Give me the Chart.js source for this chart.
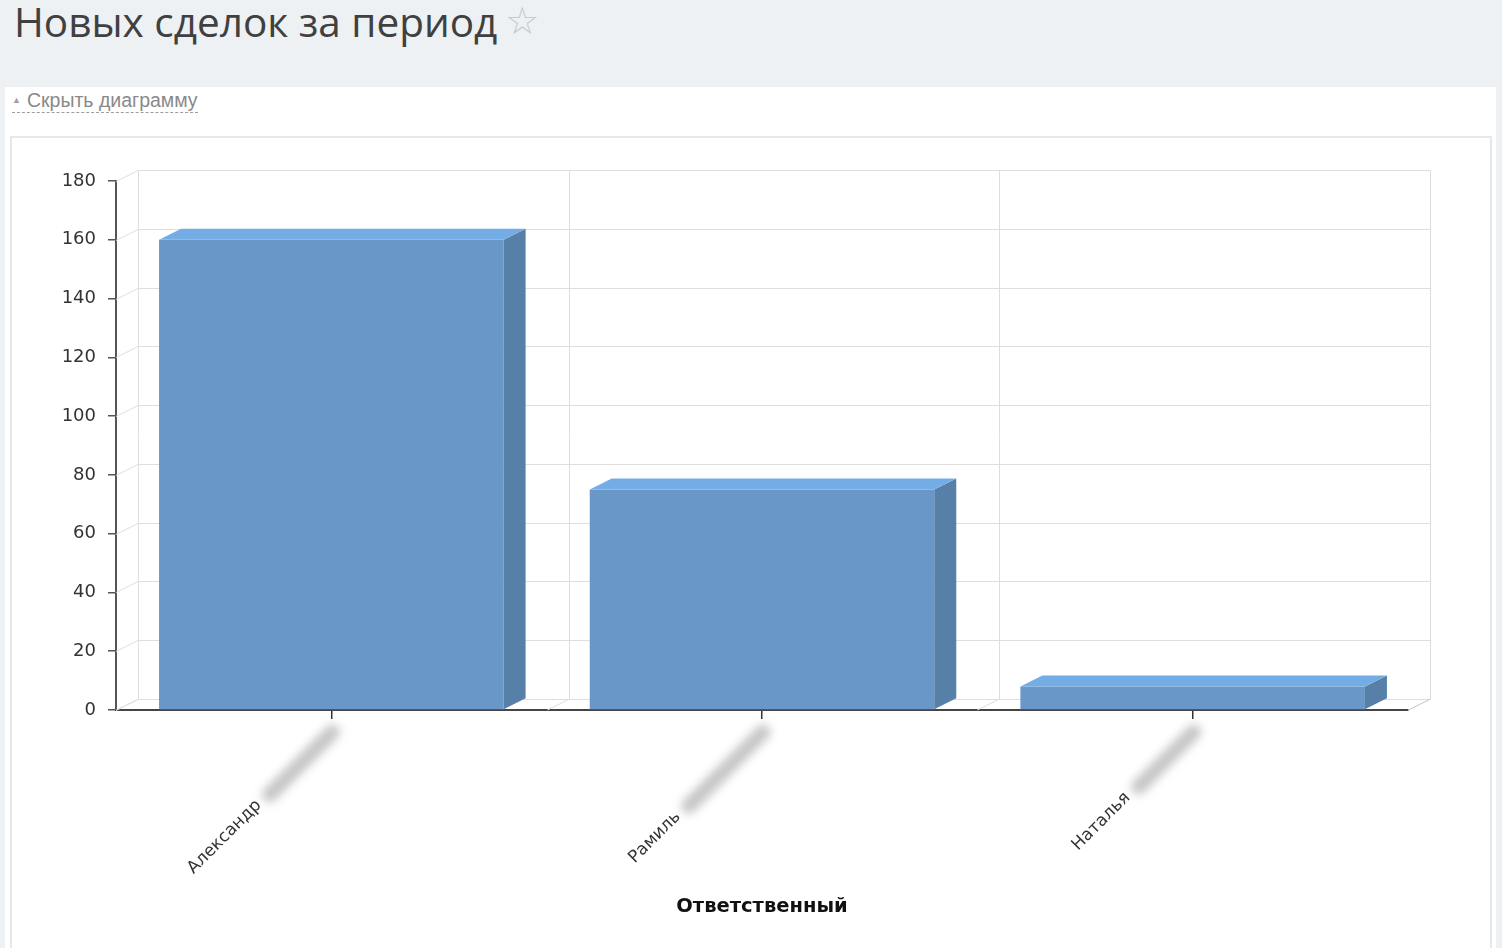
<!DOCTYPE html>
<html lang="ru">
<head>
<meta charset="utf-8">
<title>Новых сделок за период</title>
<script src="https://cdn.jsdelivr.net/npm/chart.js@4.4.1/dist/chart.umd.min.js"></script>
<style>
  html, body { margin: 0; padding: 0; }
  body {
    width: 1502px; height: 948px; position: relative; overflow: hidden;
    background: #edf1f4; font-family: "Open Sans", sans-serif;
  }
  .page-title {
    position: absolute; left: 14px; top: -6px; margin: 0;
    font-size: 40.5px; font-weight: 400; color: #404040; white-space: nowrap;
  }
  .page-title .star {
    font-family: "DejaVu Sans", sans-serif; font-size: 38px; color: #c6cacd;
    margin-left: 8px; position: relative; top: -3px;
  }
  .panel { position: absolute; left: 5px; top: 87px; width: 1491px; height: 861px; background: #fff; }
  .toggle {
    position: absolute; left: 12px; top: 89px;
    font-family: "Liberation Sans", Arial, sans-serif; font-size: 19.5px; color: #8a8a8a;
    border-bottom: 1px dashed #9c9c9c; line-height: 23px;
  }
  .toggle .arrow { font-size: 9px; color: #a0a0a0; vertical-align: 4px; margin-right: 6px; }
  .chart-box {
    position: absolute; left: 10px; top: 136px; width: 1478px; height: 820px;
    border: 2px solid #e6e9eb; background: #fff;
  }
  .chart-wrap { position: absolute; left: 0; top: 0; width: 1502px; height: 948px; }
</style>
</head>
<body>
<h1 class="page-title">Новых сделок за период<span class="star">☆</span></h1>
<div class="panel"></div>
<div class="toggle"><span class="arrow">▲</span>Скрыть диаграмму</div>
<div class="chart-box"></div>
<div class="chart-wrap"><canvas id="deals-chart"></canvas></div>

<script>
// data
const categories = ['Александр', 'Рамиль', 'Наталья'];
const dealCounts = [160, 75, 8];
const yTickValues = [0, 20, 40, 60, 80, 100, 120, 140, 160, 180];
const xAxisTitle = 'Ответственный';
// surnames are blurred out in the original, keep their length as blank space
const hiddenSurnameLength = [19, 22, 17];

// fake 3d depth
const DEPTH_X = 22;
const DEPTH_Y = 11;

const FRONT = '#6897c8';
const TOP = '#74ade6';
const SIDE = '#5780a8';
const GRID = '#dedede';
const LABEL_FONT = '17px "DejaVu Sans", Verdana, sans-serif';

function line(ctx, x1, y1, x2, y2) {
  ctx.beginPath();
  ctx.moveTo(x1, y1);
  ctx.lineTo(x2, y2);
  ctx.stroke();
}

function poly(ctx, pts, color) {
  ctx.beginPath();
  ctx.moveTo(pts[0][0], pts[0][1]);
  pts.slice(1).forEach((p) => ctx.lineTo(p[0], p[1]));
  ctx.closePath();
  ctx.fillStyle = color;
  ctx.fill();
}

const box3d = {
  id: 'box3d',
  beforeDatasetsDraw(chart) {
    const { ctx, chartArea: a, scales: { x, y } } = chart;
    ctx.save();
    ctx.strokeStyle = GRID;
    ctx.lineWidth = 1;

    // back wall horizontal lines + left wall slants
    y.ticks.forEach((t) => {
      const py = Math.round(y.getPixelForValue(t.value)) + 0.5;
      line(ctx, a.left, py, a.left + DEPTH_X, py - DEPTH_Y);
      line(ctx, a.left + DEPTH_X, py - DEPTH_Y, a.right + DEPTH_X, py - DEPTH_Y);
    });

    // back wall verticals + floor slants at category borders
    for (let i = 0; i <= categories.length; i++) {
      const bx = Math.round(x.getPixelForValue(i - 0.5)) + 0.5;
      line(ctx, bx + DEPTH_X, a.top - DEPTH_Y, bx + DEPTH_X, a.bottom - DEPTH_Y);
      ctx.strokeStyle = i === categories.length ? '#c4c4c4' : GRID;
      line(ctx, bx, a.bottom, bx + DEPTH_X, a.bottom - DEPTH_Y);
      ctx.strokeStyle = GRID;
    }
    ctx.restore();
  },
  afterDatasetsDraw(chart) {
    const { ctx } = chart;
    const meta = chart.getDatasetMeta(0);
    ctx.save();
    meta.data.forEach((bar) => {
      const { x, y, base, width } = bar.getProps(['x', 'y', 'base', 'width'], true);
      const l = x - width / 2;
      const r = x + width / 2;
      poly(ctx, [[r, y], [r + DEPTH_X, y - DEPTH_Y], [r + DEPTH_X, base - DEPTH_Y], [r, base]], SIDE);
      poly(ctx, [[l, y], [l + DEPTH_X, y - DEPTH_Y], [r + DEPTH_X, y - DEPTH_Y], [r, y]], TOP);
    });
    ctx.restore();
  },
  afterDraw(chart) {
    // grey smudge where the surname was blurred
    const { ctx, chartArea: a, scales: { x } } = chart;
    ctx.save();
    ctx.font = LABEL_FONT;
    ctx.filter = 'blur(5px)';
    ctx.strokeStyle = 'rgba(150,150,150,0.55)';
    ctx.lineWidth = 15;
    ctx.lineCap = 'round';
    categories.forEach((c, i) => {
      const len = ctx.measureText(' '.repeat(hiddenSurnameLength[i])).width;
      const d = (len - 14) * Math.SQRT1_2;
      const sx = x.getPixelForValue(i) + 1;
      const sy = a.bottom + 22;
      line(ctx, sx, sy, sx - d, sy + d);
    });
    ctx.restore();
  },
};

Chart.defaults.font.family = '"DejaVu Sans", Verdana, sans-serif';
Chart.defaults.color = '#333';

const chart = new Chart(document.getElementById('deals-chart'), {
  type: 'bar',
  data: {
    labels: categories,
    datasets: [{
      data: dealCounts,
      backgroundColor: FRONT,
      borderWidth: 0,
      barPercentage: 0.8,
      categoryPercentage: 1,
    }],
  },
  options: {
    responsive: true,
    maintainAspectRatio: false,
    animation: false,
    layout: { padding: { left: 40, top: 181, right: 94, bottom: 27 } },
    plugins: {
      legend: { display: false },
      tooltip: { enabled: false },
    },
    scales: {
      x: {
        z: 1,
        afterFit: (scale) => { scale.height = 211; },
        border: { display: true, color: '#454545', width: 2 },
        grid: { display: true, offset: false, drawOnChartArea: false, drawTicks: true, tickLength: 9, color: '#333', lineWidth: 1.5 },
        ticks: {
          minRotation: 45,
          maxRotation: 45,
          autoSkip: false,
          padding: 4,
          color: '#333',
          font: { size: 17 },
          callback: (value, i) => categories[i] + ' '.repeat(hiddenSurnameLength[i]),
        },
        title: {
          display: true,
          text: xAxisTitle,
          color: '#111',
          font: { size: 19.5, weight: 'bold' },
          padding: { top: 0, bottom: 2 },
        },
      },
      y: {
        min: 0,
        max: 180,
        afterFit: (scale) => { scale.width = 76; },
        afterBuildTicks: (scale) => { scale.ticks = yTickValues.map((v) => ({ value: v })); },
        border: { display: true, color: '#555', width: 2 },
        grid: { display: true, drawOnChartArea: false, drawTicks: true, tickLength: 8, color: '#555', lineWidth: 1.5 },
        ticks: { padding: 12, color: '#333', font: { size: 18 } },
      },
    },
  },
  plugins: [box3d],
});
</script>
</body>
</html>
